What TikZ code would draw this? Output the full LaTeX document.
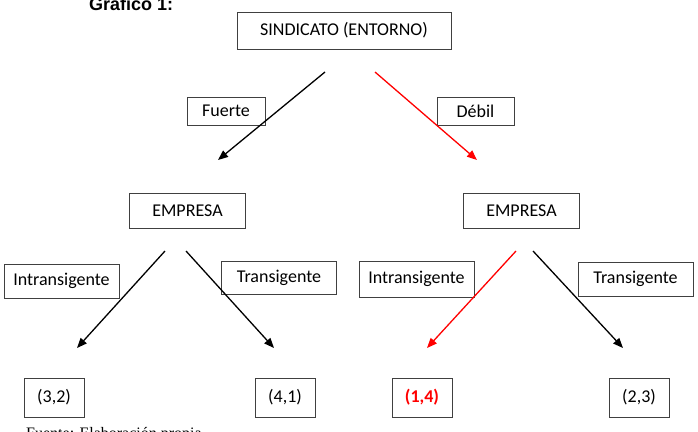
\documentclass[tikz,border=0pt]{standalone}
\usepackage{fontspec}
\setmainfont{Carlito}
\newfontfamily\arialfont{Liberation Sans}
\newfontfamily\timesfont{Liberation Serif}
\usetikzlibrary{arrows.meta}

\begin{document}
\begin{tikzpicture}[x=1pt,y=-1pt,
  caja/.style={draw=black!75,line width=0.9pt,inner sep=0pt,font=\fontsize{18}{21}\selectfont},
  flecha/.style={-{Triangle[length=10pt,width=8pt]},line width=1.3pt}]
\useasboundingbox (0,0) rectangle (698,431);
\node[anchor=base west,inner sep=0pt,font=\arialfont\bfseries\fontsize{18}{21}\selectfont] (tit) at (89,10) {Gráfico 1:};
\node[caja,minimum width=214pt,minimum height=37pt] (sind) at (344,30.5) {SINDICATO (ENTORNO)};
\node[caja,minimum width=78pt,minimum height=28pt] (fue) at (226,111) {Fuerte};
\node[caja,minimum width=77pt,minimum height=28pt] (deb) at (475.5,111) {Débil};
\node[caja,minimum width=116pt,minimum height=35pt] (emp1) at (187.5,210.5) {EMPRESA};
\node[caja,minimum width=116pt,minimum height=35pt] (emp2) at (521.5,210.5) {EMPRESA};
\node[caja,minimum width=115pt,minimum height=34pt] (int1) at (61.5,281) {Intransigente};
\node[caja,minimum width=115pt,minimum height=33pt] (tra1) at (279,277.5) {Transigente};
\node[caja,minimum width=115pt,minimum height=36pt] (int2) at (416.5,279) {Intransigente};
\node[caja,minimum width=115pt,minimum height=34pt] (tra2) at (635.5,279) {Transigente};
\node[caja,minimum width=60pt,minimum height=39pt] (r32) at (54,397.5) {(3,2)};
\node[caja,minimum width=60pt,minimum height=39pt] (r41) at (285,397.5) {(4,1)};
\node[caja,minimum width=60pt,minimum height=39pt,text=red,font=\bfseries\fontsize{18}{21}\selectfont] (r14) at (422,397.5) {(1,4)};
\node[caja,minimum width=60pt,minimum height=39pt] (r23) at (639,397.5) {(2,3)};
\node[anchor=north west,inner sep=0pt,font=\timesfont\fontsize{16}{19}\selectfont] (fte) at (26,427) {Fuente: Elaboración propia};
% puntas y colas de las flechas
\coordinate (a0) at (325,72);  \coordinate (a1) at (218,160);
\coordinate (b0) at (375,72);  \coordinate (b1) at (477,160);
\coordinate (c0) at (165,251); \coordinate (c1) at (77,348);
\coordinate (d0) at (186,251); \coordinate (d1) at (274,348);
\coordinate (e0) at (516,251); \coordinate (e1) at (427,348);
\coordinate (g0) at (533,251); \coordinate (g1) at (623,348);
\draw[flecha] (a0) -- (a1);
\draw[flecha,red] (b0) -- (b1);
\draw[flecha] (c0) -- (c1);
\draw[flecha] (d0) -- (d1);
\draw[flecha,red] (e0) -- (e1);
\draw[flecha] (g0) -- (g1);
\end{tikzpicture}
\end{document}
